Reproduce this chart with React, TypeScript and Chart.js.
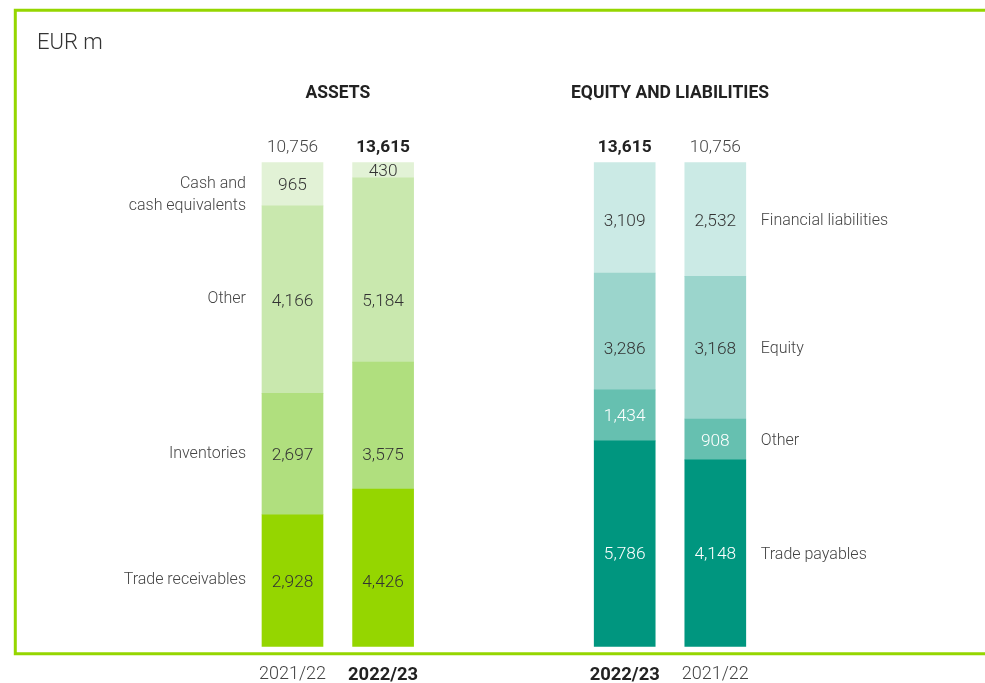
import React, { useEffect, useRef } from "react";
import { Chart, registerables } from "chart.js";

Chart.register(...registerables);

// ---- data ----
const assetCategories = ["Trade receivables", "Inventories", "Other", "Cash and\ncash equivalents"];
const assets2021_22 = [2928, 2697, 4166, 965];
const assets2022_23 = [4426, 3575, 5184, 430];

const liabilityCategories = ["Trade payables", "Other", "Equity", "Financial liabilities"];
const liabilities2022_23 = [5786, 1434, 3286, 3109];
const liabilities2021_22 = [4148, 908, 3168, 2532];

const yearLabels = ["2021/22", "2022/23"];
const groupTitles = ["ASSETS", "EQUITY AND LIABILITIES"];
const unitLabel = "EUR m";

// ---- styles ----
const assetColors = ["#95d600", "#b0df7e", "#c9e8ae", "#e2f2d6"];
const liabilityColors = ["#00967f", "#66c0b0", "#9bd5cc", "#cbeae5"];
const assetTextColors = ["#333333", "#333333", "#333333", "#333333"];
const liabilityTextColors = ["#ffffff", "#ffffff", "#333333", "#333333"];
const FONT = "Roboto, 'Liberation Sans', sans-serif";

// layout of category slots: bars occupy slots 0, 3, 11, 14
const SLOT_COUNT = 15;
const barSlots = [0, 3, 11, 14];
// bar order: assets 21/22, assets 22/23, liabilities 22/23, liabilities 21/22
const barSeries = [assets2021_22, assets2022_23, liabilities2022_23, liabilities2021_22];
const barYears = [yearLabels[0], yearLabels[1], yearLabels[1], yearLabels[0]];
const barBold = [false, true, true, false];
// bar next to the category labels (defines label rows)
const rowBarForGroup = { a: 0, l: 3 } as const;

const sum = (a: number[]) => a.reduce((s, v) => s + v, 0);

function buildDatasets() {
  const ds: any[] = [];
  const make = (catIdx: number, group: "a" | "l") => {
    const data: (number | null)[] = new Array(SLOT_COUNT).fill(null);
    const bars = group === "a" ? [0, 1] : [2, 3];
    bars.forEach((b) => {
      const series = barSeries[b];
      data[barSlots[b]] = (series[catIdx] / sum(series)) * 100;
    });
    return {
      label: group === "a" ? assetCategories[catIdx] : liabilityCategories[catIdx],
      data,
      backgroundColor: group === "a" ? assetColors[catIdx] : liabilityColors[catIdx],
      borderWidth: 0,
      barThickness: 61,
      clip: false,
      _group: group,
      _cat: catIdx,
    };
  };
  for (let i = 0; i < 4; i++) ds.push(make(i, "a"));
  for (let i = 0; i < 4; i++) ds.push(make(i, "l"));
  return ds;
}

function textAt(ctx: CanvasRenderingContext2D, text: string, x: number, cy: number, size: number, weight: number, color: string, align: CanvasTextAlign) {
  ctx.font = `${weight} ${size}px ${FONT}`;
  ctx.fillStyle = color;
  ctx.textAlign = align;
  ctx.textBaseline = "alphabetic";
  ctx.fillText(text, x, cy + size * 0.355);
}

const annotationPlugin = {
  id: "annotations",
  beforeDraw(chart: any) {
    const ctx: CanvasRenderingContext2D = chart.ctx;
    ctx.save();
    ctx.strokeStyle = "#95d600";
    ctx.lineWidth = 3;
    ctx.beginPath();
    ctx.moveTo(chart.width + 10, 10.3);
    ctx.lineTo(15.3, 10.3);
    ctx.lineTo(15.3, 653.7);
    ctx.lineTo(chart.width + 10, 653.7);
    ctx.stroke();
    ctx.restore();
  },
  afterDraw(chart: any) {
    const ctx: CanvasRenderingContext2D = chart.ctx;
    const xScale = chart.scales.x;
    const yScale = chart.scales.y;
    ctx.save();
    // unit
    textAt(ctx, unitLabel, 37, 41, 22, 300, "#333333", "left");

    const barX = barSlots.map((s) => xScale.getPixelForValue(s));
    const topY = yScale.getPixelForValue(100);
    const bottomY = yScale.getPixelForValue(0);

    // group titles
    textAt(ctx, groupTitles[0], (barX[0] + barX[1]) / 2, 92, 17.5, 700, "#222222", "center");
    textAt(ctx, groupTitles[1], (barX[2] + barX[3]) / 2, 92, 17.5, 700, "#222222", "center");

    // totals and year labels
    barSeries.forEach((series, b) => {
      const total = sum(series).toLocaleString("en-US");
      textAt(ctx, total, barX[b], topY - 16.5, 17.3, barBold[b] ? 700 : 300, barBold[b] ? "#222222" : "#444444", "center");
      textAt(ctx, barYears[b], barX[b], bottomY + 26.5, barBold[b] ? 18.4 : 18, barBold[b] ? 700 : 300, barBold[b] ? "#222222" : "#444444", "center");
    });

    // segment values and category labels
    chart.data.datasets.forEach((ds: any, di: number) => {
      const meta = chart.getDatasetMeta(di);
      const group = ds._group as "a" | "l";
      const bars = group === "a" ? [0, 1] : [2, 3];
      const rowEl = meta.data[barSlots[rowBarForGroup[group]]];
      const rowProps = rowEl.getProps(["y", "base"], true);
      const rowY = (rowProps.y + rowProps.base) / 2;
      bars.forEach((b) => {
        const el = meta.data[barSlots[b]];
        if (!el) return;
        const { x, y, base, width } = el.getProps(["x", "y", "base", "width"], true);
        const segTop = Math.min(y, base);
        const segBot = Math.max(y, base);
        const ownCy = (segTop + segBot) / 2;
        const cy = rowY > segTop + 12 && rowY < segBot - 12 ? rowY : ownCy;
        const val = barSeries[b][ds._cat];
        const color = group === "a" ? assetTextColors[ds._cat] : liabilityTextColors[ds._cat];
        textAt(ctx, val.toLocaleString("en-US"), x, cy, 17.3, 300, color, "center");
        if (b === 0) {
          const lines = assetCategories[ds._cat].split("\n");
          lines.forEach((ln, li) => {
            textAt(ctx, ln, x - width / 2 - 16, rowY - 2 + li * 22, 16, 300, "#444444", "right");
          });
        }
        if (b === 3) {
          textAt(ctx, liabilityCategories[ds._cat], x + width / 2 + 15, rowY, 16, 300, "#444444", "left");
        }
      });
    });
    ctx.restore();
  },
};

export default function App() {
  const canvasRef = useRef<HTMLCanvasElement | null>(null);
  useEffect(() => {
    document.body.style.margin = "0";
    const canvas = canvasRef.current;
    if (!canvas) return;
    const chart = new Chart(canvas, {
      type: "bar",
      data: {
        labels: new Array(SLOT_COUNT).fill("").map((_, i) => {
          const b = barSlots.indexOf(i);
          return b >= 0 ? barYears[b] : "";
        }),
        datasets: buildDatasets(),
      },
      options: {
        responsive: false,
        animation: false,
        devicePixelRatio: 1,
        layout: { padding: { left: 277.4, right: 254.6, top: 162.5, bottom: 36.5 } },
        plugins: { legend: { display: false }, tooltip: { enabled: false }, title: { display: false } },
        scales: {
          x: { display: false, stacked: true, offset: true },
          y: { display: false, stacked: true, min: 0, max: 100 },
        },
      },
      plugins: [annotationPlugin],
    });
    return () => chart.destroy();
  }, []);
  return (
    <div style={{ width: 985, height: 683, background: "#ffffff" }}>
      <canvas ref={canvasRef} width={985} height={683} style={{ display: "block" }} />
    </div>
  );
}
